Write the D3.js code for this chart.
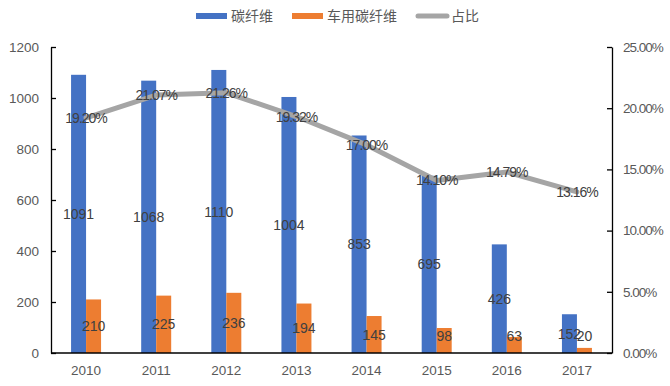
<!DOCTYPE html>
<html>
<head>
<meta charset="utf-8">
<script src="https://d3js.org/d3.v7.min.js"></script>
<style>
  body { margin: 0; background: #fff; }
  text { font-family: "Liberation Sans", Arial, "Noto Sans CJK SC", sans-serif; }
  .cjk { font-family: "Noto Sans CJK SC", sans-serif; }
</style>
</head>
<body>
<div id="plot"></div>
<script>
// data
var years = ['2010', '2011', '2012', '2013', '2014', '2015', '2016', '2017'];
var carbonFiber = [1091, 1068, 1110, 1004, 853, 695, 426, 152];
var autoCarbonFiber = [210, 225, 236, 194, 145, 98, 63, 20];
var share = [19.20, 21.07, 21.26, 19.32, 17.00, 14.10, 14.79, 13.16];
var seriesNames = ['碳纤维', '车用碳纤维', '占比'];
var leftTicks = [0, 200, 400, 600, 800, 1000, 1200];
var rightTicks = [0, 5, 10, 15, 20, 25];

var W = 670, H = 386;
var margin = {top: 47, bottom: 33, left: 51, right: 58};
var colors = ['#4472C4', '#ED7D31', '#A5A5A5'];

var svg = d3.select('#plot').append('svg')
    .attr('width', W)
    .attr('height', H)
    .style('background', '#fff');

var x = d3.scaleBand()
    .domain(years)
    .range([margin.left, W - margin.right])
    .padding(0);
var yL = d3.scaleLinear().domain([0, 1200]).range([H - margin.bottom, margin.top]);
var yR = d3.scaleLinear().domain([0, 25]).range([H - margin.bottom, margin.top]);
var barW = 15;
var x1 = d3.scaleBand()
    .domain([0, 1])
    .range([x.bandwidth() / 2 - barW, x.bandwidth() / 2 + barW]);

var rows = years.map(function(y, i) {
  return {year: y, vals: [carbonFiber[i], autoCarbonFiber[i]], pct: share[i]};
});

// bars
var groups = svg.selectAll('.yr')
    .data(rows)
    .enter().append('g')
      .attr('class', 'yr')
      .attr('transform', function(d) { return 'translate(' + x(d.year) + ',0)'; });

groups.selectAll('rect')
    .data(function(d) { return d.vals; })
    .enter().append('rect')
      .attr('x', function(d, i) { return x1(i); })
      .attr('width', x1.bandwidth())
      .attr('y', function(d) { return yL(d); })
      .attr('height', function(d) { return yL(0) - yL(d); })
      .attr('fill', function(d, i) { return colors[i]; });

// line
var line = d3.line()
    .x(function(d) { return x(d.year) + x.bandwidth() / 2; })
    .y(function(d) { return yR(d.pct); });

svg.append('path')
    .datum(rows)
    .attr('d', line)
    .attr('fill', 'none')
    .attr('stroke', colors[2])
    .attr('stroke-width', 5)
    .attr('stroke-linejoin', 'round')
    .attr('stroke-linecap', 'round');

// axes
var gL = svg.append('g')
    .attr('transform', 'translate(' + margin.left + ',0)')
    .call(d3.axisLeft(yL).tickValues(leftTicks).tickSizeInner(-5).tickSizeOuter(0).tickPadding(12)
      .tickFormat(d3.format('d')));
var gR = svg.append('g')
    .attr('transform', 'translate(' + (W - margin.right) + ',0)')
    .call(d3.axisRight(yR).tickValues(rightTicks).tickSizeInner(-5).tickSizeOuter(0).tickPadding(11)
      .tickFormat(function(d) { return d.toFixed(2) + '%'; }));
var gB = svg.append('g')
    .attr('transform', 'translate(0,' + (H - margin.bottom) + ')')
    .call(d3.axisBottom(x).tickSize(0).tickPadding(12));

[gL, gR, gB].forEach(function(g) {
  g.selectAll('path, line').attr('stroke', '#000').attr('stroke-width', 1.3);
  g.selectAll('text').attr('fill', '#595959').style('font-size', '13.5px');
});
gR.selectAll('text').style('letter-spacing', '-1px');
gB.select('.domain').attr('d', 'M' + margin.left + ',0H' + (W - margin.right));

// data labels (centred in the bar, but kept clear of the baseline)
groups.selectAll('.val')
    .data(function(d) { return d.vals; })
    .enter().append('text')
      .attr('class', 'val')
      .attr('x', function(d, i) { return x1(i) + x1.bandwidth() / 2; })
      .attr('y', function(d) { return Math.min((yL(d) + yL(0)) / 2, yL(0) - 17); })
      .attr('dy', '0.36em')
      .attr('text-anchor', 'middle')
      .attr('fill', '#404040')
      .style('font-size', '14px')
      .text(function(d) { return d; });

svg.selectAll('.pct')
    .data(rows)
    .enter().append('text')
      .attr('class', 'pct')
      .attr('x', function(d) { return x(d.year) + x.bandwidth() / 2; })
      .attr('y', function(d) { return yR(d.pct); })
      .attr('dy', '0.36em')
      .attr('text-anchor', 'middle')
      .attr('fill', '#404040')
      .style('font-size', '14px')
      .style('letter-spacing', '-1px')
      .text(function(d) { return d.pct.toFixed(2) + '%'; });

// legend
var legX = [196, 292, 416];
var legend = svg.selectAll('.legend')
    .data(seriesNames)
    .enter().append('g')
      .attr('class', 'legend')
      .attr('transform', function(d, i) { return 'translate(' + legX[i] + ',16)'; });

legend.filter(function(d, i) { return i < 2; })
    .append('rect')
      .attr('x', 0).attr('y', -3)
      .attr('width', 31).attr('height', 6)
      .attr('fill', function(d, i) { return colors[i]; });
legend.filter(function(d, i) { return i === 2; })
    .append('line')
      .attr('x1', 2).attr('x2', 31)
      .attr('stroke', colors[2])
      .attr('stroke-width', 5)
      .attr('stroke-linecap', 'round');
legend.append('text')
    .attr('class', 'cjk')
    .attr('x', 35)
    .attr('dy', '0.35em')
    .attr('fill', '#595959')
    .style('font-size', '14px')
    .text(function(d) { return d; });
</script>
</body>
</html>
